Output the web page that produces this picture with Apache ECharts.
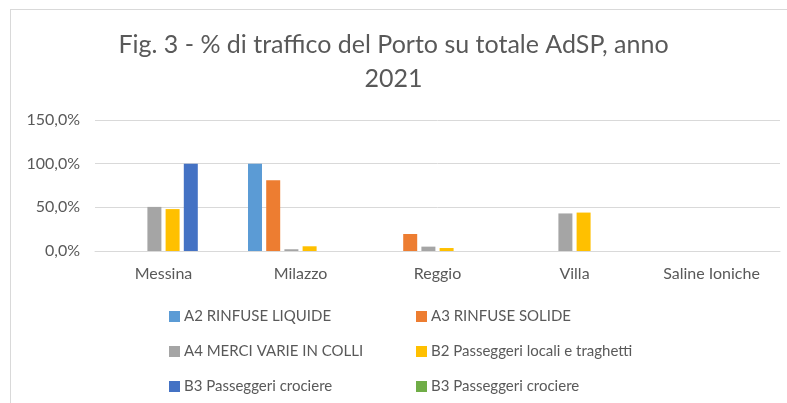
<!DOCTYPE html>
<html>
<head>
<meta charset="utf-8">
<script src="https://cdn.jsdelivr.net/npm/echarts@6/dist/echarts.min.js"></script>
<style>
  html, body { margin: 0; padding: 0; background: #fff; }
  #frame { position: absolute; left: 10px; top: 9px; width: 800px; height: 420px; border: 1px solid #d9d9d9; }
  #chart { position: absolute; left: 0; top: 0; width: 787px; height: 403px; }
</style>
</head>
<body>
<div id="frame"></div>
<div id="chart"></div>
<script>
const ports = ["Messina", "Milazzo", "Reggio", "Villa", "Saline Ioniche"];
const a2Liquide = [0, 100, 0, 0, 0];
const a3Solide = [0, 81, 19.5, 0, 0];
const a4Colli = [50.5, 2, 5, 43, 0];
const b2Locali = [48, 5.4, 3.4, 44, 0];
const b3Crociere = [100, 0, 0, 0, 0];
const b3CrociereBis = [0, 0, 0, 0, 0];

const seriesNames = [
    "A2 RINFUSE LIQUIDE",
    "A3 RINFUSE SOLIDE",
    "A4 MERCI VARIE IN COLLI",
    "B2 Passeggeri locali e traghetti",
    "B3 Passeggeri crociere",
    "B3 Passeggeri crociere (2)"
];
const seriesData = [a2Liquide, a3Solide, a4Colli, b2Locali, b3Crociere, b3CrociereBis];
const colors = ["#5B9BD5", "#ED7D31", "#A5A5A5", "#FFC000", "#4472C4", "#70AD47"];

const font = "Lato, 'Open Sans', sans-serif";
const textColor = "#595959";

var chart = echarts.init(document.getElementById("chart"));

const legendCommon = {
    orient: "vertical",
    top: 303,
    icon: "rect",
    itemWidth: 11,
    itemHeight: 11,
    itemGap: 18,
    textStyle: { color: textColor, fontSize: 15, fontFamily: font, lineHeight: 17, padding: [0, 0, 0, -1] },
    formatter: name => name.replace(" (2)", "")
};

chart.setOption({
    backgroundColor: "transparent",
    title: {
        text: "Fig. 3 - % di traffico del Porto su totale AdSP, anno\n2021",
        left: "center",
        top: 23,
        textStyle: {
            color: textColor,
            fontSize: 25,
            fontWeight: "normal",
            fontFamily: font,
            lineHeight: 34
        }
    },
    color: colors,
    legend: [
        Object.assign({}, legendCommon, { left: 164, data: [seriesNames[0], seriesNames[2], seriesNames[4]] }),
        Object.assign({}, legendCommon, { left: 411, data: [seriesNames[1], seriesNames[3], seriesNames[5]] })
    ],
    grid: {
        left: 95,
        right: 7,
        top: 120,
        bottom: 152,
        containLabel: false
    },
    xAxis: {
        type: "category",
        data: ports,
        axisLine: { lineStyle: { color: "#d9d9d9" } },
        axisTick: { show: false },
        axisLabel: { color: textColor, fontSize: 16, fontFamily: font, margin: 15 }
    },
    yAxis: {
        type: "value",
        min: 0,
        max: 150,
        interval: 50,
        axisLine: { show: false },
        axisTick: { show: false },
        splitLine: { lineStyle: { color: "#d9d9d9" } },
        axisLabel: {
            color: textColor,
            fontSize: 16,
            fontFamily: font,
            margin: 15,
            formatter: v => v.toFixed(1).replace(".", ",") + "%"
        }
    },
    series: seriesNames.map((name, i) => ({
        name: name,
        type: "bar",
        data: seriesData[i],
        barWidth: 14,
        barGap: "30%",
        itemStyle: { color: colors[i] },
        emphasis: { disabled: true }
    })),
    animation: false
});
</script>
</body>
</html>
